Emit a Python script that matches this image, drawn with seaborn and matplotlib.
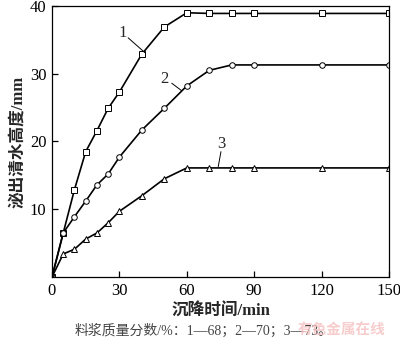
import numpy as np
import pandas as pd
import matplotlib
matplotlib.use("Agg")
import matplotlib.pyplot as plt
import seaborn as sns

time_1 = [0, 5, 10, 15, 20, 25, 30, 40, 50, 60, 70, 80, 90, 120, 150]
height_1 = [0, 6.5, 12.9, 18.5, 21.6, 24.9, 27.3, 32.9, 36.9, 39.0, 38.9, 38.9, 38.9, 38.9, 38.9]
time_2 = [0, 5, 10, 15, 20, 25, 30, 40, 50, 60, 70, 80, 90, 120, 150]
height_2 = [0, 6.5, 8.9, 11.2, 13.6, 15.2, 17.7, 21.7, 24.9, 28.2, 30.5, 31.3, 31.3, 31.3, 31.3]
time_3 = [0, 5, 10, 15, 20, 25, 30, 40, 50, 60, 70, 80, 90, 120, 150]
height_3 = [0, 3.4, 4.1, 5.6, 6.5, 8.0, 9.7, 12.0, 14.5, 16.1, 16.1, 16.1, 16.1, 16.1, 16.1]
series_labels = ["1", "2", "3"]
x_ticks = [0, 30, 60, 90, 120, 150]
y_ticks = [10, 20, 30, 40]
x_label = "沉降时间/min"
y_label = "泌出清水高度/mm"
caption = "料浆质量分数/%：1—68；2—70；3—73。"
watermark = "有色金属在线"

sns.set_theme(style="ticks")
plt.rcParams['font.family'] = ['Liberation Serif', 'Noto Sans CJK SC', 'DejaVu Sans']

fig = plt.figure(figsize=(4.0, 3.46), dpi=100)
ax = fig.add_axes([0.13, 0.1994, 0.8425, 0.7833])

markers = ["s", "o", "^"]
for t, h, m in zip([time_1, time_2, time_3], [height_1, height_2, height_3], markers):
    df = pd.DataFrame({"t": t, "h": h})
    sns.lineplot(data=df, x="t", y="h", ax=ax, color="black", linewidth=1.2,
                 marker=m, markersize=4, markerfacecolor="white",
                 markeredgecolor="black", markeredgewidth=0.7)

ax.set_xlim(0, 150)
ax.set_ylim(0, 40)
ax.set_xticks(x_ticks)
ax.set_yticks(y_ticks)
ax.set_xticklabels([str(v) for v in x_ticks])
ax.set_yticklabels([str(v) for v in y_ticks])
ax.tick_params(direction="in", length=4, width=0.9, labelsize=12, colors="black", pad=4)
for s in ax.spines.values():
    s.set_linewidth(0.9)
    s.set_color("black")
ax.set_xlabel(x_label, fontsize=12, fontweight="bold", labelpad=4)
ax.set_ylabel(y_label, fontsize=12, fontweight="bold", labelpad=3)

# curve annotations
ann = [("1", (31.6, 36.0), (33.9, 35.3), (41.4, 33.1)),
       ("2", (49.9, 29.2), (53.3, 28.6), (57.7, 27.5)),
       ("3", (75.5, 19.6), (75.2, 18.5), (74.0, 16.3))]
for lab, tp, p0, p1 in ann:
    ax.text(tp[0], tp[1], lab, fontsize=12, ha="center", va="center")
    ax.plot([p0[0], p1[0]], [p0[1], p1[1]], color="black", linewidth=0.7)

fig.text(0.51, 0.045, caption, fontsize=10, color="#444444", ha="center", va="center")
fig.text(0.855, 0.045, watermark, fontsize=10.5, color="#f5c0c0", ha="center", va="center",
         fontweight="bold", alpha=0.8)

fig.savefig("out.png", dpi=100)
